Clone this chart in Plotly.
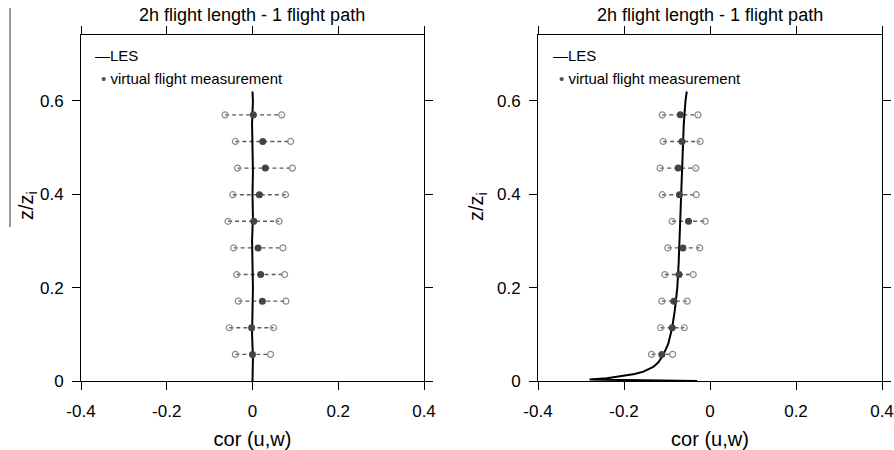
import plotly.graph_objects as go
from plotly.subplots import make_subplots

# Flight levels (z/zi) of the virtual measurements
levels = [0.057, 0.114, 0.171, 0.228, 0.285, 0.342, 0.399, 0.456, 0.513, 0.570]

# Left panel: measured correlation and its spread
left_mid = [0.000, -0.002, 0.023, 0.019, 0.013, 0.003, 0.016, 0.030, 0.024, 0.002]
left_lo = [-0.040, -0.054, -0.033, -0.037, -0.044, -0.057, -0.046, -0.035, -0.040, -0.064]
left_hi = [0.042, 0.049, 0.078, 0.075, 0.071, 0.062, 0.077, 0.093, 0.089, 0.068]

# Right panel: measured correlation and its spread
right_mid = [-0.112, -0.088, -0.084, -0.072, -0.063, -0.050, -0.071, -0.074, -0.065, -0.069]
right_lo = [-0.136, -0.115, -0.112, -0.105, -0.098, -0.088, -0.111, -0.116, -0.109, -0.111]
right_hi = [-0.087, -0.060, -0.053, -0.039, -0.024, -0.011, -0.032, -0.033, -0.023, -0.028]

# LES reference profiles
les_left_z = [0.0, 0.05, 0.1, 0.15, 0.2, 0.25, 0.3, 0.35, 0.4, 0.45, 0.5, 0.55, 0.6, 0.62]
les_left_x = [0.0, 0.001, -0.001, 0.0, 0.001, 0.0, -0.001, 0.001, 0.0, 0.001, 0.0, -0.001, 0.001, 0.0]
les_right_z = [0.0, 0.003, 0.006, 0.01, 0.015, 0.02, 0.03, 0.04, 0.057, 0.08, 0.114,
               0.15, 0.2, 0.25, 0.3, 0.35, 0.4, 0.45, 0.5, 0.55, 0.6, 0.62]
les_right_x = [-0.03, -0.28, -0.24, -0.205, -0.175, -0.155, -0.132, -0.12, -0.108, -0.097, -0.088,
               -0.082, -0.076, -0.073, -0.071, -0.069, -0.068, -0.066, -0.064, -0.061, -0.057, -0.054]

x_ticks = [-0.4, -0.2, 0, 0.2, 0.4]
x_tick_text = ["-0.4", "-0.2", "0", "0.2", "0.4"]
y_ticks = [0, 0.2, 0.4, 0.6]
y_tick_text = ["0", "0.2", "0.4", "0.6"]
panel_title = "2h flight length - 1 flight path"
x_title = "cor (u,w)"
y_title = "z/z<sub>i</sub>"

FONT = "Liberation Sans, Arial, Helvetica, sans-serif"
W, H = 894, 450

fig = make_subplots(rows=1, cols=2)


def add_panel(col, mid, lo, hi, les_x, les_z):
    seg_x, seg_y = [], []
    for a, b, z in zip(lo, hi, levels):
        seg_x += [a, b, None]
        seg_y += [z, z, None]
    fig.add_trace(go.Scatter(x=seg_x, y=seg_y, mode="lines",
                             line=dict(color="#5a5a5a", width=1.4, dash="4px,3px"),
                             showlegend=False, hoverinfo="skip"), row=1, col=col)
    fig.add_trace(go.Scatter(x=les_x, y=les_z, mode="lines",
                             line=dict(color="black", width=2.0),
                             showlegend=False), row=1, col=col)
    fig.add_trace(go.Scatter(x=lo + hi, y=levels + levels, mode="markers",
                             marker=dict(symbol="circle-open", size=6,
                                         color="#8a8a8a", line=dict(width=1.2)),
                             showlegend=False), row=1, col=col)
    fig.add_trace(go.Scatter(x=mid, y=levels, mode="markers",
                             marker=dict(symbol="circle", size=7, color="#444444"),
                             showlegend=False), row=1, col=col)


add_panel(1, left_mid, left_lo, left_hi, les_left_x, les_left_z)
add_panel(2, right_mid, right_lo, right_hi, les_right_x, les_right_z)

axis_common = dict(showline=True, linecolor="black", linewidth=1, mirror="ticks",
                   ticks="outside", ticklen=8, tickcolor="black", tickwidth=1,
                   showgrid=False, zeroline=False, automargin=False,
                   tickfont=dict(family=FONT, size=17, color="black"))

for i, dom in ((1, [81 / W, 424 / W]), (2, [538 / W, 882 / W])):
    fig.update_xaxes(range=[-0.4, 0.4], tickvals=x_ticks, ticktext=x_tick_text,
                     domain=dom, ticklabelstandoff=7,
                     title=dict(text=x_title, standoff=12,
                                font=dict(family=FONT, size=20, color="black")),
                     **axis_common, row=1, col=i)
    fig.update_yaxes(range=[0, 0.741], tickvals=y_ticks, ticktext=y_tick_text,
                     domain=[1 - 381 / H, 1 - 35 / H], ticklabelstandoff=5,
                     **axis_common, row=1, col=i)

annotations = []
shapes = []

# Panel titles
for cx in (252, 710):
    annotations.append(dict(text=panel_title, x=cx / W, y=1 - 15 / H, xref="paper", yref="paper",
                            showarrow=False, font=dict(family=FONT, size=18, color="black"),
                            xanchor="center", yanchor="middle"))

# Vertical-axis titles
for cx in (27, 477):
    annotations.append(dict(text=y_title, x=cx / W, y=1 - 206 / H, xref="paper", yref="paper",
                            showarrow=False, textangle=-90,
                            font=dict(family=FONT, size=20, color="black"),
                            xanchor="center", yanchor="middle"))

# In-panel legends
for px in (93, 551):
    annotations.append(dict(text="—LES", x=px / W, y=1 - 55 / H, xref="paper", yref="paper",
                            showarrow=False, font=dict(family=FONT, size=15, color="black"),
                            xanchor="left", yanchor="middle"))
    annotations.append(dict(text="<span style='color:#555555'>•</span> virtual flight measurement",
                            x=(px + 6) / W, y=1 - 78 / H, xref="paper", yref="paper",
                            showarrow=False, font=dict(family=FONT, size=15, color="black"),
                            xanchor="left", yanchor="middle"))

# Thin rule at the far left edge
shapes.append(dict(type="line", xref="paper", yref="paper",
                   x0=10 / W, x1=10 / W, y0=1 - 8 / H, y1=1 - 227 / H,
                   line=dict(color="#333333", width=1)))

fig.update_layout(width=W, height=H, margin=dict(l=0, r=0, t=0, b=0, autoexpand=False),
                  paper_bgcolor="white", plot_bgcolor="white",
                  annotations=annotations, shapes=shapes, showlegend=False,
                  font=dict(family=FONT, color="black"))

fig.write_html("out.html")
